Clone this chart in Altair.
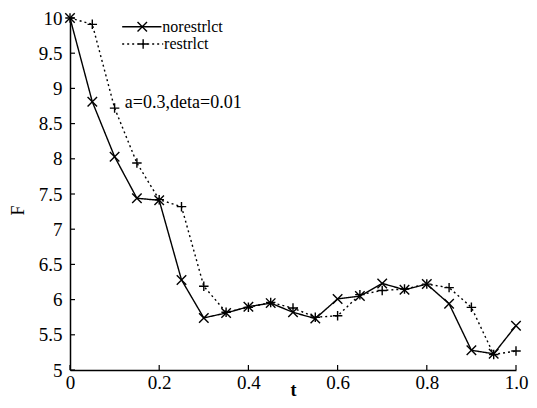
import altair as alt
import pandas as pd

# ---- data ----
t_vals = [0.0, 0.05, 0.1, 0.15, 0.2, 0.25, 0.3, 0.35, 0.4, 0.45, 0.5,
          0.55, 0.6, 0.65, 0.7, 0.75, 0.8, 0.85, 0.9, 0.95, 1.0]
no_restrict = [10.0, 8.81, 8.03, 7.44, 7.41, 6.28, 5.74, 5.81, 5.90, 5.95, 5.82,
               5.73, 6.01, 6.05, 6.23, 6.14, 6.22, 5.94, 5.28, 5.23, 5.63]
restrict = [10.0, 9.91, 8.72, 7.94, 7.42, 7.32, 6.19, 5.82, 5.89, 5.96, 5.88,
            5.75, 5.77, 6.07, 6.13, 6.15, 6.22, 6.17, 5.89, 5.22, 5.27]
series_names = ["norestrlct", "restrlct"]
x_ticks = [0.0, 0.2, 0.4, 0.6, 0.8, 1.0]
y_ticks = [5.0, 5.5, 6.0, 6.5, 7.0, 7.5, 8.0, 8.5, 9.0, 9.5, 10.0]
annotation = "a=0.3,deta=0.01"

# legend placement in data units
legend_x1 = [0.117, 0.117]
legend_x2 = [0.205, 0.209]
legend_xm = [0.162, 0.164]
legend_xt = [0.207, 0.211]
legend_y = [9.875, 9.63]

FONT = "Liberation Serif"
W, H = 446, 352

df = pd.DataFrame({
    "t": t_vals * 2,
    "F": no_restrict + restrict,
    "series": [series_names[0]] * len(t_vals) + [series_names[1]] * len(t_vals),
})
leg = pd.DataFrame({"x1": legend_x1, "x2": legend_x2, "xm": legend_xm,
                    "xt": legend_xt, "y": legend_y, "series": series_names})

xs = alt.Scale(domain=[0, 1], nice=False, zero=False)
ys = alt.Scale(domain=[5, 10], nice=False, zero=False)
dash = alt.Scale(domain=series_names, range=[[1, 0], [2, 3]])
shp = alt.Scale(domain=series_names,
                range=["M-1,-1L1,1M-1,1L1,-1", "M-1,0L1,0M0,-1L0,1"])

x_axis = alt.Axis(
    values=x_ticks, title="t", ticks=False, labelOverlap=False,
    labelExpr="datum.value == 1 ? '1.0' : format(datum.value, '~g')",
    labelFont=FONT, labelFontSize=19, titleFont=FONT,
    labelPadding=3, titleY=25, titleBaseline="alphabetic", titleFontWeight="bold")
y_axis = alt.Axis(
    values=y_ticks, title="F", ticks=False, labelPadding=8,
    labelOverlap=False, labelExpr="format(datum.value, '~g')",
    labelFont=FONT, labelFontSize=19, titleFont=FONT,
    titleX=-52, titleY=H / 2 + 16, titleAngle=270,
    titleAlign="center", titleBaseline="middle", titleFontWeight="normal")


def X(f):
    return alt.X(f, scale=xs, axis=x_axis)


def Y(f):
    return alt.Y(f, scale=ys, axis=y_axis)


base = alt.Chart(df)
lines = base.mark_line(color="black", strokeWidth=1.4).encode(
    x=X("t:Q"), y=Y("F:Q"),
    strokeDash=alt.StrokeDash("series:N", scale=dash, legend=None),
    detail="series:N",
)
points = base.mark_point(filled=False, color="black", strokeWidth=1.4, size=90, opacity=1).encode(
    x=X("t:Q"), y=Y("F:Q"),
    shape=alt.Shape("series:N", scale=shp, legend=None),
)

xtick_df = pd.DataFrame({"v": x_ticks})
ytick_df = pd.DataFrame({"v": y_ticks})
xticks = alt.Chart(xtick_df).mark_rule(color="black", strokeWidth=1.2).encode(
    x=X("v:Q"), y=alt.value(H), y2=alt.value(H - 5))
yticks = alt.Chart(ytick_df).mark_rule(color="black", strokeWidth=1.2).encode(
    y=Y("v:Q"), x=alt.value(0), x2=alt.value(5))

lchart = alt.Chart(leg)
leg_lines = lchart.mark_rule(color="black", strokeWidth=1.4).encode(
    x=X("x1:Q"), x2="x2:Q", y=Y("y:Q"),
    strokeDash=alt.StrokeDash("series:N", scale=dash, legend=None))
leg_pts = lchart.mark_point(filled=False, color="black", strokeWidth=1.4, size=90, opacity=1).encode(
    x=X("xm:Q"), y=Y("y:Q"),
    shape=alt.Shape("series:N", scale=shp, legend=None))
leg_text = lchart.mark_text(align="left", baseline="middle", font=FONT,
                            fontSize=16, color="black").encode(
    x=X("xt:Q"), y=Y("y:Q"), text="series:N")

ann = alt.Chart(pd.DataFrame({"x": [0.123], "y": [8.79], "txt": [annotation]})).mark_text(
    align="left", baseline="middle", font=FONT, fontSize=18, color="black").encode(
    x=X("x:Q"), y=Y("y:Q"), text="txt:N")

chart = alt.layer(lines, points, xticks, yticks, leg_lines, leg_pts, leg_text, ann).properties(
    width=W, height=H,
    autosize=alt.AutoSizeParams(type="none"),
    padding={"left": 62, "top": 10, "right": 13, "bottom": 30},
).configure_view(stroke=None).configure_axis(
    domainColor="black", domainWidth=1.5, grid=False,
    labelFont=FONT, labelFontSize=19, labelColor="black",
    titleFont=FONT, titleFontSize=18, titleColor="black",
).configure_axisY(labelFlush=False).configure_axisX(labelFlush=False)

chart.save("out.html", embed_options={"renderer": "svg", "actions": False})
